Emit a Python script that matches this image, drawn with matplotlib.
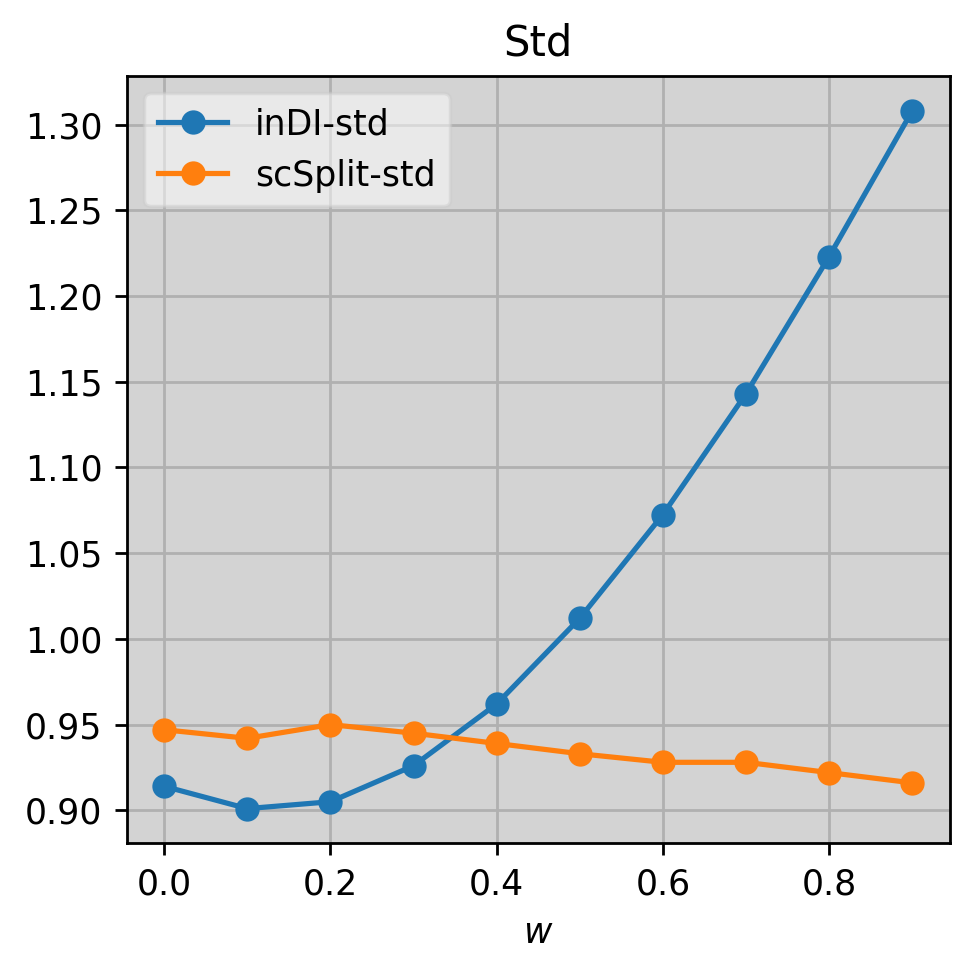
import numpy as np
import matplotlib.pyplot as plt

# valores
w = [0.0, 0.1, 0.2, 0.3, 0.4, 0.5, 0.6, 0.7, 0.8, 0.9]
indi_std = [0.914, 0.901, 0.905, 0.926, 0.962, 1.012, 1.0725, 1.143, 1.223, 1.308]
scsplit_std = [0.947, 0.942, 0.950, 0.945, 0.939, 0.933, 0.928, 0.928, 0.922, 0.916]

fig, ax = plt.subplots(figsize=(975 / 250, 974 / 250), dpi=250)
ax.set_facecolor('lightgray')
ax.plot(w, indi_std, marker='o', label='inDI-std')
ax.plot(w, scsplit_std, marker='o', label='scSplit-std')
ax.grid(True, color='#b0b0b0')
ax.set_axisbelow(True)
ax.set_title("Std")
ax.set_xlabel("$w$")
ax.legend(loc='upper left', framealpha=0.5)
fig.subplots_adjust(left=0.130, right=0.974, top=0.922, bottom=0.134)
fig.savefig('out.png')
